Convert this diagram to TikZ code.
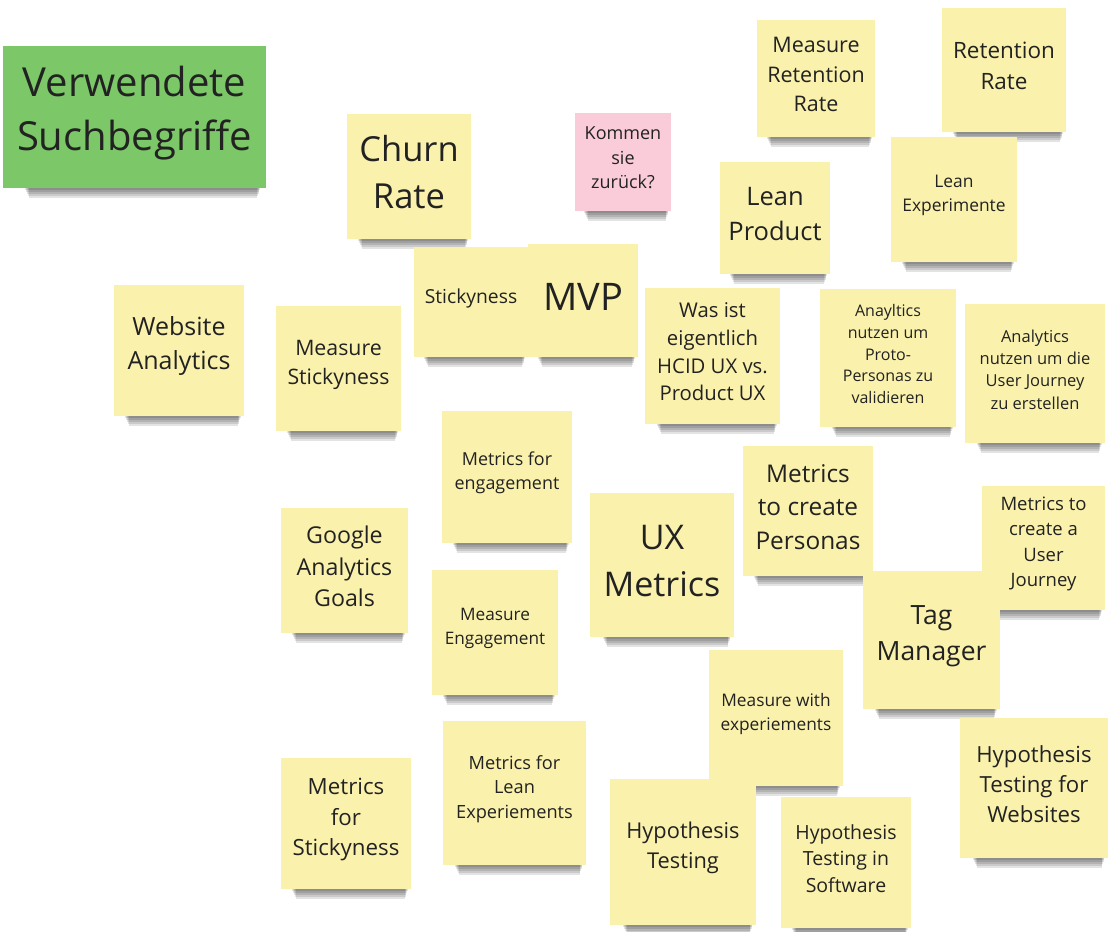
\documentclass[tikz,border=0pt]{standalone}
\usepackage{fontspec}
\setmainfont{Open Sans}
\usepackage{xcolor}
\usepackage{tikz}
\definecolor{postit}{RGB}{250,242,172}
\definecolor{postgreen}{RGB}{124,200,104}
\definecolor{postpink}{RGB}{250,204,218}
\definecolor{ink}{RGB}{34,34,34}
\newcommand{\fsz}[1]{\fontsize{#1}{\fpeval{1.36*#1}}\selectfont}
% sticky note: [colour]{name}{x}{y}{width}{height}{font size}{text}
\newcommand{\postit}[8][postit]{
  \foreach \d in {2,4,...,10}
    \fill[black,opacity=.11] ({#3-.42*#5+\d/2},#4) rectangle ({#3+.48*#5-\d/3},{#4+#6/2+\d});
  \node[paper,fill=#1,minimum width=#5pt,minimum height=#6pt] (#2) at (#3,#4) {};
  \node[note,font=\fsz{#7}] at ([yshift=4pt]#2.center) {#8};
}

\begin{document}
\begin{tikzpicture}[x=1pt,y=-1pt,
    paper/.style={inner sep=0pt},
    note/.style={text=ink,align=center,inner sep=0pt}]
    \useasboundingbox[fill=white] (0,0) rectangle (1112,932);

    % top row
    \postit{measret}{816}{78.5}{118}{117}{21.5}{Measure\\Retention\\Rate}
    \postit{retrate}{1004}{70}{124}{124}{22.5}{Retention\\Rate}
    \postit[postgreen]{title}{134.5}{117}{263}{142}{40}{Verwendete\\Suchbegriffe}
    \postit[postpink]{kommen}{623}{162}{96}{98}{18}{Kommen\\sie\\zurück?}
    \postit{churn}{409}{176.5}{124}{125}{34.5}{Churn\\Rate}
    \postit{leanexp}{954}{199.5}{126}{125}{17.4}{Lean\\Experimente}
    \postit{leanprod}{775}{218}{110}{112}{25.5}{Lean\\Product}

    % second row
    \postit{mvp}{583}{300.5}{110}{113}{38}{MVP}
    \postit{sticky}{471}{302}{114}{110}{19.3}{Stickyness}
    \postit{website}{179}{350.5}{130}{131}{25}{Website\\Analytics}
    \postit{hcid}{712.5}{356}{135}{136}{20.3}{Was ist\\eigentlich\\HCID UX vs.\\Product UX}
    \postit{proto}{888}{358}{136}{138}{16}{Anayltics\\nutzen um\\Proto-\\Personas zu\\validieren}
    \postit{journey}{1035}{373.5}{140}{139}{16.5}{Analytics\\nutzen um die\\User Journey\\zu erstellen}
    \postit{measticky}{338.5}{368.5}{125}{125}{21.3}{Measure\\Stickyness}

    % middle
    \postit{engage}{507}{477}{130}{132}{17.9}{Metrics for\\engagement}
    \postit{personas}{808}{511}{130}{130}{24.4}{Metrics\\to create\\Personas}
    \postit{mjourney}{1043.5}{548}{123}{124}{18.5}{Metrics to\\create a\\User\\Journey}
    \postit{uxm}{662}{565}{144}{144}{34}{UX\\Metrics}
    \postit{google}{344.5}{570.5}{127}{125}{23.2}{Google\\Analytics\\Goals}
    \postit{meaeng}{495}{632.5}{126}{125}{17.2}{Measure\\Engagement}
    \postit{tag}{931.5}{640}{137}{138}{26.5}{Tag\\Manager}
    \postit{meaexp}{776}{718}{134}{136}{17.3}{Measure with\\experiements}

    % bottom row
    \postit{hypweb}{1034}{788}{148}{140}{22.2}{Hypothesis\\Testing for\\Websites}
    \postit{lean}{514.5}{793}{143}{144}{18.2}{Metrics for\\Lean\\Experiements}
    \postit{mstick}{346}{823.5}{130}{131}{22.3}{Metrics\\for\\Stickyness}
    \postit{hyp}{683}{852}{146}{146}{21.8}{Hypothesis\\Testing}
    \postit{hypsoft}{846}{862.5}{130}{131}{19.5}{Hypothesis\\Testing in\\Software}
\end{tikzpicture}
\end{document}
